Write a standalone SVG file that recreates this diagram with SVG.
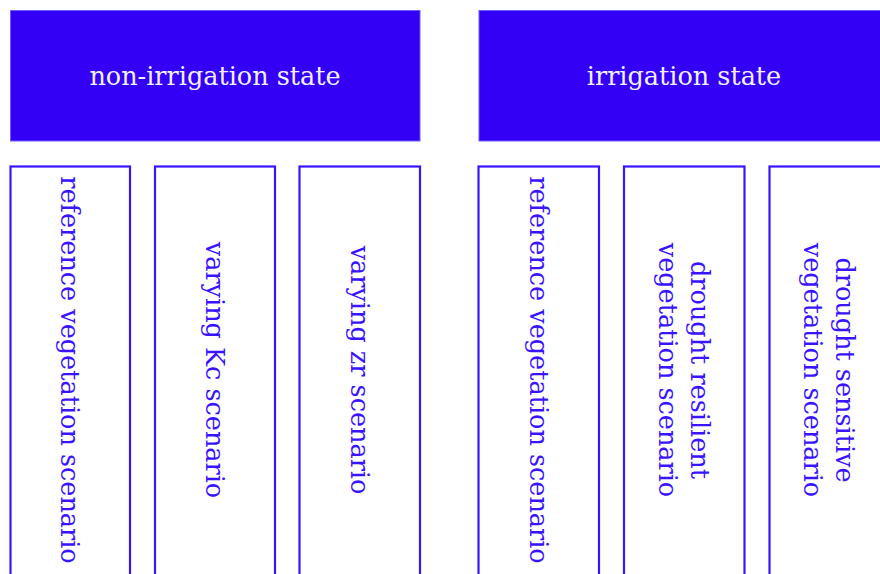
<svg xmlns="http://www.w3.org/2000/svg" width="880" height="574" viewBox="0 0 880 574">
<style>
.hdr{fill:#3300f5;stroke:#6f5cff;stroke-width:1}
.hdr-t{fill:#f2f0ff;font-family:"DejaVu Serif","Liberation Serif",serif;font-size:25.5px;text-anchor:middle;dominant-baseline:central}
.box{fill:#ffffff;stroke:#3a14ff;stroke-width:2.2}
.box-t{fill:#3a14ff;font-family:"DejaVu Serif","Liberation Serif",serif;font-size:25.5px;text-anchor:middle;dominant-baseline:central}
</style>
<rect width="880" height="574" fill="#ffffff"/>
<g id="non-irrigation">
<rect class="hdr" x="10.5" y="10.5" width="409.5" height="130.5"/>
<text class="hdr-t" x="215" y="76">non-irrigation state</text>
</g>
<g id="irrigation">
<rect class="hdr" x="479" y="10.5" width="410" height="130.5"/>
<text class="hdr-t" x="684" y="76">irrigation state</text>
</g>
<g id="connectors"></g>
<g id="ni-reference">
<rect class="box" x="10.5" y="166.5" width="119.5" height="412"/>
<text class="box-t" transform="translate(70,370) rotate(90)">reference vegetation scenario</text>
</g>
<g id="ni-kc">
<rect class="box" x="155" y="166.5" width="120" height="412"/>
<text class="box-t" transform="translate(215,370) rotate(90)">varying Kc scenario</text>
</g>
<g id="ni-zr">
<rect class="box" x="299.5" y="166.5" width="120.5" height="412"/>
<text class="box-t" transform="translate(360,370) rotate(90)">varying zr scenario</text>
</g>
<g id="i-reference">
<rect class="box" x="478.5" y="166.5" width="120.5" height="412"/>
<text class="box-t" transform="translate(539,370) rotate(90)">reference vegetation scenario</text>
</g>
<g id="i-resilient">
<rect class="box" x="624" y="166.5" width="120.5" height="412"/>
<text class="box-t" transform="translate(684,370) rotate(90)"><tspan x="0" y="-16">drought resilient</tspan><tspan x="0" y="16">vegetation scenario</tspan></text>
</g>
<g id="i-sensitive">
<rect class="box" x="769.5" y="166.5" width="120" height="412"/>
<text class="box-t" transform="translate(829,370) rotate(90)"><tspan x="0" y="-16">drought sensitive</tspan><tspan x="0" y="16">vegetation scenario</tspan></text>
</g>
</svg>
